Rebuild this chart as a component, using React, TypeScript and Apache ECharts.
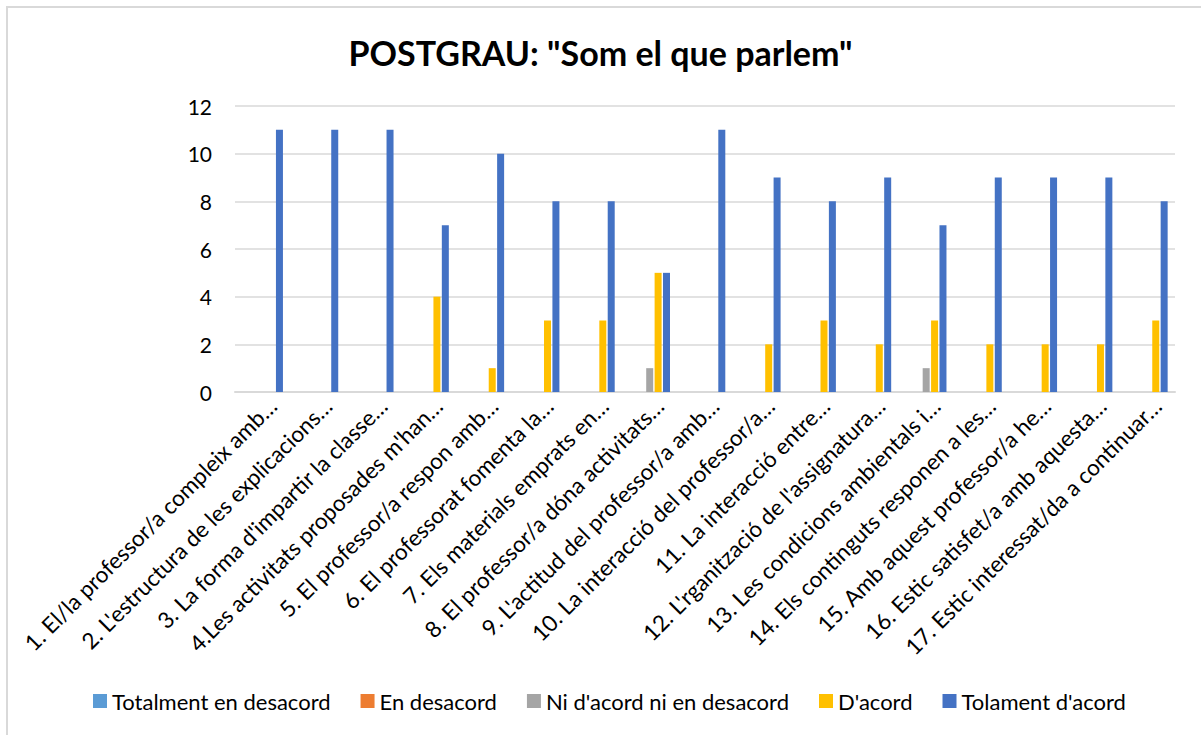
import React, { useEffect, useRef } from "react";
import * as echarts from "echarts";

const categories = [
  "1. El/la professor/a compleix amb…",
  "2. L'estructura de les explicacions…",
  "3. La forma d'impartir la classe…",
  "4.Les activitats proposades m'han…",
  "5. El professor/a respon amb…",
  "6. El professorat fomenta la…",
  "7. Els materials emprats en…",
  "8. El professor/a dóna activitats…",
  "9. L'actitud del professor/a amb…",
  "10. La interacció del professor/a…",
  "11. La interacció entre…",
  "12. L'rganització de l'assignatura…",
  "13. Les condicions ambientals i…",
  "14. Els continguts responen a les…",
  "15. Amb aquest professor/a he…",
  "16. Estic satisfet/a amb aquesta…",
  "17. Estic interessat/da a continuar…",
];

const seriesNames = [
  "Totalment en desacord",
  "En desacord",
  "Ni d'acord ni en desacord",
  "D'acord",
  "Tolament d'acord",
];

const totalmentDesacord = [0, 0, 0, 0, 0, 0, 0, 0, 0, 0, 0, 0, 0, 0, 0, 0, 0];
const enDesacord = [0, 0, 0, 0, 0, 0, 0, 0, 0, 0, 0, 0, 0, 0, 0, 0, 0];
const niAcord = [0, 0, 0, 0, 0, 0, 0, 1, 0, 0, 0, 0, 1, 0, 0, 0, 0];
const acord = [0, 0, 0, 4, 1, 3, 3, 5, 0, 2, 3, 2, 3, 2, 2, 2, 3];
const totalmentAcord = [11, 11, 11, 7, 10, 8, 8, 5, 11, 9, 8, 9, 7, 9, 9, 9, 8];

const colors = ["#5b9bd5", "#ed7d31", "#a5a5a5", "#ffc000", "#4472c4"];

const yTicks = { min: 0, max: 12, interval: 2 };

const FONT = "Lato, 'Open Sans', sans-serif";

export default function App() {
  const ref = useRef<HTMLDivElement>(null);
  useEffect(() => {
    if (!ref.current) return;
    const chart = echarts.init(ref.current, null, { renderer: "svg" });
    const data = [totalmentDesacord, enDesacord, niAcord, acord, totalmentAcord];
    chart.setOption({
      animation: false,
      textStyle: { fontFamily: FONT },
      title: {
        text: 'POSTGRAU: "Som el que parlem"',
        left: "center",
        top: 30,
        textStyle: { fontFamily: FONT, fontSize: 34, fontWeight: "bold", color: "#000" },
      },
      legend: {
        bottom: 23,
        left: 93,
        padding: 0,
        itemWidth: 14,
        itemHeight: 14,
        itemGap: 30,
        icon: "rect",
        textStyle: { fontFamily: FONT, fontSize: 22, color: "#000" },
        data: seriesNames,
      },
      graphic: [
        { type: "line", shape: { x1: 6, y1: 7, x2: 1201, y2: 7 }, style: { stroke: "#d9d9d9", lineWidth: 2 } },
        { type: "line", shape: { x1: 7, y1: 6, x2: 7, y2: 735 }, style: { stroke: "#d9d9d9", lineWidth: 2 } },
      ],
      grid: [
        { left: 235, right: 26, top: 106, bottom: 343 },
        { left: 245, right: 16, top: 106, bottom: 343 },
      ],
      xAxis: [
        {
          type: "category",
          gridIndex: 0,
          data: categories,
          axisLine: { lineStyle: { color: "#d9d9d9", width: 2 } },
          axisTick: { show: false },
          axisLabel: { show: false },
        },
        {
          type: "category",
          gridIndex: 1,
          data: categories,
          axisLine: { show: false },
          axisTick: { show: false },
          axisLabel: {
            interval: 0,
            rotate: 45,
            margin: 10,
            fontFamily: FONT,
            fontSize: 22.5,
            color: "#000",
          },
        },
      ],
      yAxis: [
        {
          type: "value",
          gridIndex: 0,
          min: yTicks.min,
          max: yTicks.max,
          interval: yTicks.interval,
          axisLine: { show: false },
          axisTick: { show: false },
          splitLine: { lineStyle: { color: "#d9d9d9", width: 1.5 } },
          axisLabel: { fontFamily: FONT, fontSize: 21, color: "#000", margin: 23 },
        },
        {
          type: "value",
          gridIndex: 1,
          min: yTicks.min,
          max: yTicks.max,
          interval: yTicks.interval,
          show: false,
          splitLine: { show: false },
        },
      ],
      series: seriesNames.map((name, i) => ({
        name,
        type: "bar",
        xAxisIndex: 0,
        yAxisIndex: 0,
        data: data[i],
        barWidth: 7,
        barGap: "20%",
        itemStyle: { color: colors[i] },
      })),
    });
    return () => chart.dispose();
  }, []);
  return (
    <div
      ref={ref}
      style={{ position: "absolute", left: 0, top: 0, width: 1201, height: 735, background: "#fff" }}
    />
  );
}
